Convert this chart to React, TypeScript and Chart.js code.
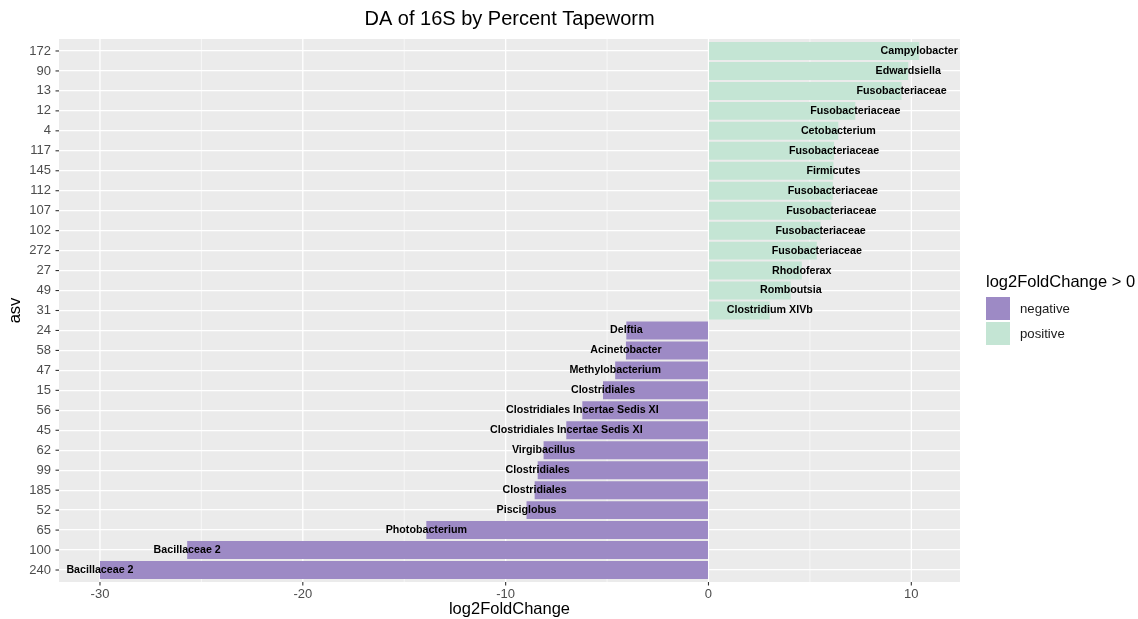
import React, { useEffect, useRef } from "react";
import { Chart, registerables } from "chart.js";

Chart.register(...registerables);

// ASV ids, top to bottom
const asvIds = [
  "172", "90", "13", "12", "4", "117", "145", "112", "107", "102", "272", "27", "49", "31",
  "24", "58", "47", "15", "56", "45", "62", "99", "185", "52", "65", "100", "240",
];

// taxon label for each ASV
const taxa = [
  "Campylobacter", "Edwardsiella", "Fusobacteriaceae", "Fusobacteriaceae", "Cetobacterium",
  "Fusobacteriaceae", "Firmicutes", "Fusobacteriaceae", "Fusobacteriaceae", "Fusobacteriaceae",
  "Fusobacteriaceae", "Rhodoferax", "Romboutsia", "Clostridium XIVb",
  "Delftia", "Acinetobacter", "Methylobacterium", "Clostridiales",
  "Clostridiales Incertae Sedis XI", "Clostridiales Incertae Sedis XI", "Virgibacillus",
  "Clostridiales", "Clostridiales", "Pisciglobus", "Photobacterium", "Bacillaceae 2", "Bacillaceae 2",
];

// log2 fold change per ASV
const log2FoldChange = [
  10.39, 9.85, 9.52, 7.24, 6.4, 6.19, 6.16, 6.13, 6.06, 5.53, 5.34, 4.6, 4.06, 3.02,
  -4.05, -4.07, -4.6, -5.2, -6.22, -7.01, -8.13, -8.42, -8.57, -8.97, -13.91, -25.7, -30.0,
];

const xTicks = [-30, -20, -10, 0, 10];
const legendLabels = ["negative", "positive"];

const NEG_COLOR = "#9D8AC5";
const POS_COLOR = "#C4E5D4";
const PANEL_BG = "#EBEBEB";
const FONT = "'Liberation Sans', Arial, Helvetica, sans-serif";

const PANEL_TOP = 39;
const PANEL_BOTTOM = 582;

const decorPlugin = {
  id: "ggDecor",
  beforeDraw(chart: any) {
    const { ctx, chartArea, scales } = chart;
    const x = scales.x;
    ctx.save();
    ctx.fillStyle = PANEL_BG;
    ctx.fillRect(chartArea.left, PANEL_TOP, chartArea.right - chartArea.left, PANEL_BOTTOM - PANEL_TOP);
    // vertical grid lines (major every 10, minor in between)
    ctx.strokeStyle = "#FFFFFF";
    for (let v = -30; v <= 10; v += 5) {
      const px = x.getPixelForValue(v);
      ctx.lineWidth = v % 10 === 0 ? 1.3 : 0.6;
      ctx.beginPath();
      ctx.moveTo(px, PANEL_TOP);
      ctx.lineTo(px, PANEL_BOTTOM);
      ctx.stroke();
    }
    ctx.restore();
  },
  afterDatasetsDraw(chart: any) {
    const { ctx, scales } = chart;
    const x = scales.x;
    const y = scales.y;
    ctx.save();
    ctx.fillStyle = "#000000";
    ctx.font = `bold 10.7px ${FONT}`;
    ctx.textAlign = "center";
    ctx.textBaseline = "middle";
    log2FoldChange.forEach((v, i) => {
      ctx.fillText(taxa[i], x.getPixelForValue(v), y.getPixelForValue(i));
    });
    ctx.restore();
  },
  afterDraw(chart: any) {
    const { ctx, chartArea, scales } = chart;
    const x = scales.x;
    const y = scales.y;
    ctx.save();
    // tick marks
    ctx.strokeStyle = "#333333";
    ctx.lineWidth = 1.1;
    xTicks.forEach((v) => {
      const px = x.getPixelForValue(v);
      ctx.beginPath();
      ctx.moveTo(px, PANEL_BOTTOM);
      ctx.lineTo(px, PANEL_BOTTOM + 3.5);
      ctx.stroke();
    });
    asvIds.forEach((_, i) => {
      const py = y.getPixelForValue(i);
      ctx.beginPath();
      ctx.moveTo(chartArea.left - 3.5, py);
      ctx.lineTo(chartArea.left, py);
      ctx.stroke();
    });

    const midX = (chartArea.left + chartArea.right) / 2;
    ctx.fillStyle = "#000000";
    ctx.textAlign = "center";
    ctx.textBaseline = "middle";
    ctx.font = `20px ${FONT}`;
    ctx.fillText("DA of 16S by Percent Tapeworm", midX, 19);
    ctx.font = `16.5px ${FONT}`;
    ctx.fillText("log2FoldChange", midX, 609);

    ctx.save();
    ctx.translate(15, (PANEL_TOP + PANEL_BOTTOM) / 2);
    ctx.rotate(-Math.PI / 2);
    ctx.fillText("asv", 0, 0);
    ctx.restore();

    // legend
    ctx.textAlign = "left";
    ctx.font = `16.5px ${FONT}`;
    ctx.fillText("log2FoldChange > 0", 986, 282);
    const keyColors = [NEG_COLOR, POS_COLOR];
    ctx.font = `13.2px ${FONT}`;
    legendLabels.forEach((lab, i) => {
      const top = 297 + i * 25;
      ctx.fillStyle = keyColors[i];
      ctx.fillRect(986, top, 24, 23);
      ctx.fillStyle = "#1A1A1A";
      ctx.fillText(lab, 1020, top + 12.5);
    });
    ctx.restore();
  },
};

export default function App() {
  const canvasRef = useRef<HTMLCanvasElement | null>(null);

  useEffect(() => {
    const canvas = canvasRef.current;
    if (!canvas) return;
    const chart = new Chart(canvas, {
      type: "bar",
      data: {
        labels: asvIds,
        datasets: [
          {
            data: log2FoldChange,
            backgroundColor: log2FoldChange.map((v) => (v > 0 ? POS_COLOR : NEG_COLOR)),
            barPercentage: 0.9,
            categoryPercentage: 1,
            borderWidth: 0,
          },
        ],
      },
      options: {
        indexAxis: "y",
        responsive: false,
        animation: false,
        devicePixelRatio: 1,
        layout: { padding: { top: 41, right: 178, left: 0, bottom: 0 } },
        plugins: {
          legend: { display: false },
          title: { display: false },
          tooltip: { enabled: false },
        },
        scales: {
          x: {
            type: "linear",
            min: -32.02,
            max: 12.4,
            afterFit: (s: any) => {
              s.height = 39;
            },
            border: { display: false },
            grid: { display: true, drawOnChartArea: false, drawTicks: false },
            ticks: {
              stepSize: 10,
              includeBounds: false,
              autoSkip: false,
              maxRotation: 0,
              padding: 7,
              color: "#4D4D4D",
              font: { family: FONT, size: 13 },
              callback: (v: any) => (xTicks.includes(Number(v)) ? String(v) : ""),
            },
            afterBuildTicks: (s: any) => {
              s.ticks = xTicks.map((v) => ({ value: v }));
            },
          },
          y: {
            type: "category",
            afterFit: (s: any) => {
              s.width = 59;
            },
            border: { display: false },
            grid: {
              offset: false,
              color: "#FFFFFF",
              lineWidth: 1.3,
              drawTicks: false,
            },
            ticks: {
              autoSkip: false,
              padding: 8,
              color: "#4D4D4D",
              font: { family: FONT, size: 13 },
            },
          },
        },
      },
      plugins: [decorPlugin],
    } as any);
    return () => chart.destroy();
  }, []);

  return (
    <div style={{ position: "absolute", left: 0, top: 0, width: 1138, height: 619, background: "#FFFFFF" }}>
      <canvas ref={canvasRef} width={1138} height={619} style={{ display: "block" }} />
    </div>
  );
}
